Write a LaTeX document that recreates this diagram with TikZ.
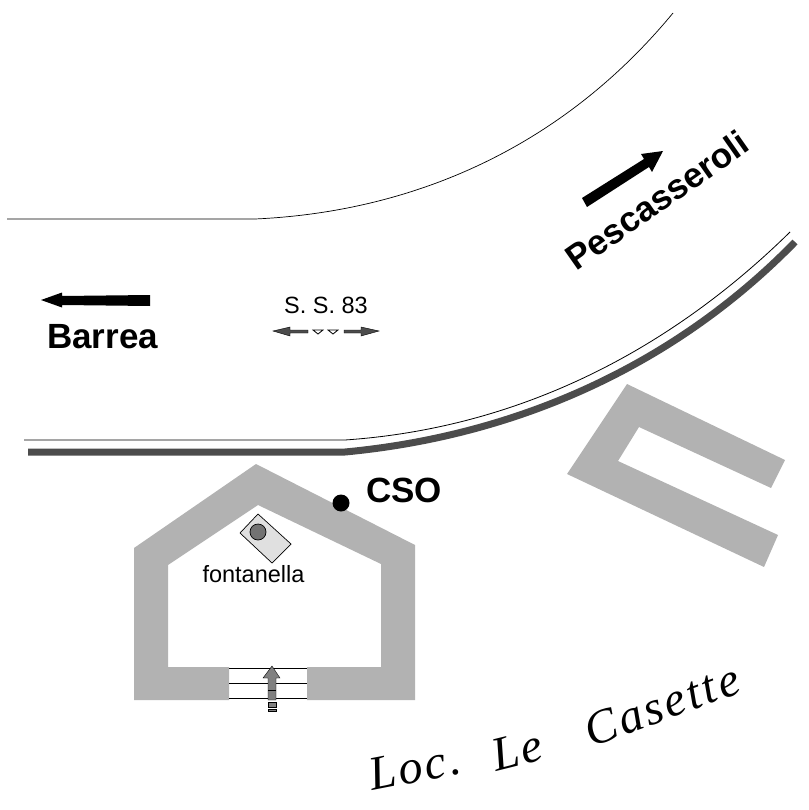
\documentclass[tikz,border=0pt]{standalone}
\usepackage{fontspec}
\setmainfont{Liberation Sans}
\newfontfamily\locfont[LetterSpace=6]{Liberation Serif}
\usetikzlibrary{calc,positioning}
\definecolor{wallgray}{gray}{0.7}
\definecolor{roadgray}{gray}{0.3}
\definecolor{arrowgray}{gray}{0.5}

\begin{document}
\begin{tikzpicture}[x=1pt, y=-1pt,
    wall/.style = {fill=wallgray, draw=none},
    bigarrow/.style = {fill=black, draw=none},
    smallarrow/.style = {fill=roadgray, draw=black, line width=0.4pt},
    bold label/.style = {font=\fontsize{35}{35}\selectfont\bfseries, inner sep=0pt},
    thin label/.style = {font=\fontsize{23.5}{24}\selectfont, inner sep=0pt},
    loc label/.style = {font=\fontsize{48}{48}\selectfont\locfont\itshape, inner sep=0pt}]
\useasboundingbox (0,0) rectangle (808,810);

% road
\draw[line width=0.7pt] (7,219) -- (255,219) .. controls (410,212) and (560,150) .. (673,13);
\draw[line width=0.8pt] (24,440) -- (345,440) .. controls (520,428) and (670,350) .. (790,232);
\draw[roadgray, line width=7pt] (28,452) -- (345,452) .. controls (525,435) and (680,360) .. (795,242);

% buildings
\fill[wall] (134,548) -- (256,464) -- (415,545) -- (415,700) -- (307,700) -- (307,667) -- (381,667)
    -- (381,564) -- (258,505) -- (168,565) -- (168,667) -- (229,667) -- (229,700) -- (134,700) -- cycle;
\fill[wall] (627,384) -- (785,460) -- (771,488) -- (639,427) -- (618,461) -- (778,535) -- (764,567) -- (567,474) -- cycle;

% fontanella
\draw[fill=black!12, line width=0.7pt] (258,514) -- (291,544) -- (272,563) -- (240,533) -- cycle;
\draw[fill=black!55, line width=0.7pt] (258,532) circle (8);
\node[thin label] (fontanella) at (253.5,574) {fontanella};

% steps
\foreach \sy in {668,683,698}
    \draw[line width=0.7pt] (229,\sy) -- (307,\sy);
\draw[fill=arrowgray, line width=0.4pt] (272,666) -- (280,678) -- (276,678) -- (276,700) -- (268,700) -- (268,678) -- (263,678) -- cycle;
\draw[line width=0.8pt] (268,690) -- (276,690);
\draw[fill=arrowgray, line width=0.4pt] (268,702) rectangle (276,707);
\draw[fill=arrowgray, line width=0.4pt] (268,709) rectangle (276,711);

% direction arrows
\fill[bigarrow] (41,300) -- (62,292.5) -- (62,296) -- (150,295) -- (150,306) -- (62,305) -- (62,307.5) -- cycle;
\fill[bigarrow] (663,151) -- (641,154) -- (644,159) -- (582,198) -- (587,207) -- (649,167) -- (652,172) -- cycle;
\node[bold label] (barrea) at (102.5,337) {Barrea};
\node[bold label, rotate=35] (pescasseroli) at (657,200) {Pescasseroli};

% S. S. 83
\node[thin label] (statale) at (326,305) {S. S. 83};
\fill[smallarrow] (273,331) -- (290,327) -- (290,330) -- (308,330) -- (308,333) -- (290,333) -- (290,336) -- cycle;
\fill[smallarrow] (379,331) -- (361,327) -- (361,330) -- (344,330) -- (344,333) -- (361,333) -- (361,336) -- cycle;
\draw[line width=0.8pt] (313,330) -- (323,330) -- (318,334) -- cycle;
\draw[line width=0.8pt] (328,330) -- (338,330) -- (333,334) -- cycle;

% CSO
\fill (341,503) circle (8.5);
\node[bold label, anchor=west] (cso) at (366,490) {CSO};

% localita
\node[loc label, rotate=11] (loc) at (415,767) {Loc.};
\node[loc label, rotate=14] (le) at (517,750) {Le};
\node[loc label, rotate=20] (casette) at (662,705) {Casette};
\end{tikzpicture}
\end{document}
